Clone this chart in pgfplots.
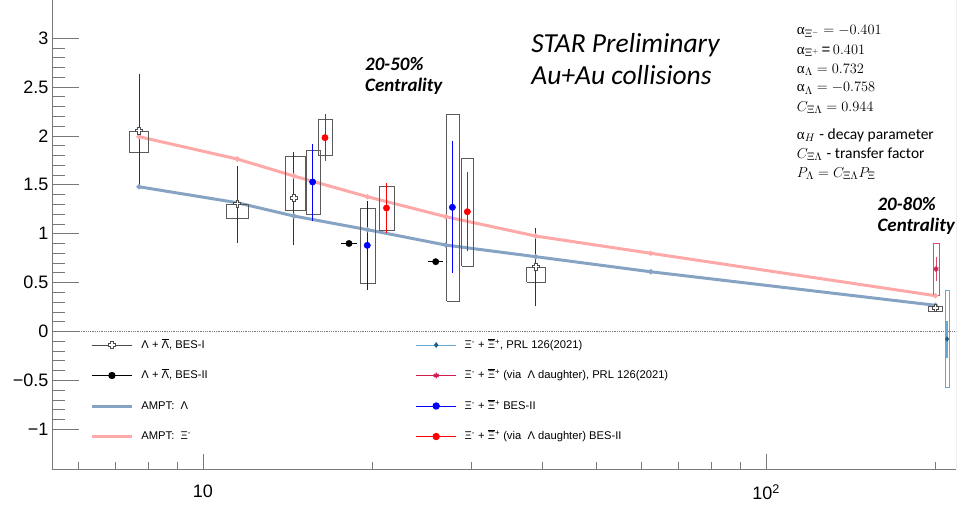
\documentclass[border=0pt]{standalone}
\usepackage{pgfplots}
\pgfplotsset{compat=1.18}
\usepackage{pgfplotstable}
\usepackage{fontspec}
\setmainfont{Liberation Sans}
\newfontfamily\calibri{Carlito}
\newfontfamily\serif{Liberation Serif}

\definecolor{axisgray}{RGB}{120,120,120}
\definecolor{boxgray}{RGB}{90,90,90}
\definecolor{amptblue}{RGB}{134,163,196}
\definecolor{amptred}{RGB}{255,168,168}
\definecolor{crimson}{RGB}{205,30,80}
\definecolor{crimbox}{RGB}{225,70,110}
\definecolor{prlline}{RGB}{100,170,210}
\definecolor{prlmark}{RGB}{25,95,135}

\pgfdeclareplotmark{opencross}{%
  \pgfpathmoveto{\pgfqpoint{-0.35\pgfplotmarksize}{\pgfplotmarksize}}%
  \pgfpathlineto{\pgfqpoint{0.35\pgfplotmarksize}{\pgfplotmarksize}}%
  \pgfpathlineto{\pgfqpoint{0.35\pgfplotmarksize}{0.35\pgfplotmarksize}}%
  \pgfpathlineto{\pgfqpoint{\pgfplotmarksize}{0.35\pgfplotmarksize}}%
  \pgfpathlineto{\pgfqpoint{\pgfplotmarksize}{-0.35\pgfplotmarksize}}%
  \pgfpathlineto{\pgfqpoint{0.35\pgfplotmarksize}{-0.35\pgfplotmarksize}}%
  \pgfpathlineto{\pgfqpoint{0.35\pgfplotmarksize}{-\pgfplotmarksize}}%
  \pgfpathlineto{\pgfqpoint{-0.35\pgfplotmarksize}{-\pgfplotmarksize}}%
  \pgfpathlineto{\pgfqpoint{-0.35\pgfplotmarksize}{-0.35\pgfplotmarksize}}%
  \pgfpathlineto{\pgfqpoint{-\pgfplotmarksize}{-0.35\pgfplotmarksize}}%
  \pgfpathlineto{\pgfqpoint{-\pgfplotmarksize}{0.35\pgfplotmarksize}}%
  \pgfpathlineto{\pgfqpoint{-0.35\pgfplotmarksize}{0.35\pgfplotmarksize}}%
  \pgfpathclose
  \pgfusepathqfillstroke
}

% Lambda + anti-Lambda, BES-I
\pgfplotstableread{
x y ep em
7.7 2.053 0.556 0.572
11.5 1.307 0.365 0.379
14.5 1.365 0.453 0.460
39 0.663 0.372 0.385
200 0.240 0.010 0.010
}\besone
% Lambda + anti-Lambda, BES-II
\pgfplotstableread{
x y xp xm ep em
18.17 0.900 0.60 0.59 0.02 0.02
25.9 0.714 0.83 0.80 0.02 0.02
}\bestwo
% Xi BES-II
\pgfplotstableread{
x y ep em
15.66 1.529 0.371 0.382
19.58 0.881 0.430 0.433
27.73 1.270 0.654 0.651
}\xibes
% Xi via Lambda daughter BES-II
\pgfplotstableread{
x y ep em
16.47 1.982 0.221 0.222
21.18 1.263 0.232 0.232
29.48 1.225 0.385 0.385
}\xilbes
% PRL 126 (2021)
\pgfplotstableread{
x y ep em
200.4 0.639 0.105 0.112
}\prlxil
\pgfplotstableread{
x y ep em
209.7 -0.077 0.184 0.191
}\prlxi
% AMPT
\pgfplotstableread{
x lam xi
7.7 1.480 1.992
11.5 1.317 1.764
14.5 1.181 1.590
19.6 1.041 1.378
27 0.884 1.174
39 0.765 0.976
62.4 0.611 0.800
200 0.268 0.366
}\ampt

\begin{document}
\begin{tikzpicture}
\begin{axis}[
  name=ax,
  scale only axis, width=904pt, height=469pt,
  xmode=log, xmin=5.393, xmax=217.5, ymin=-1.406, ymax=3.39,
  axis x line*=bottom, axis y line*=left,
  axis line style={axisgray, line width=0.8pt},
  tick align=inside,
  xtick={10,100}, xticklabels={10,10\textsuperscript{2}},
  minor xtick={6,7,8,9,20,30,40,50,60,70,80,90,200},
  ytick={-1,-0.5,0,0.5,1,1.5,2,2.5,3},
  yticklabels={−1,−0.5,0,0.5,1,1.5,2,2.5,3},
  minor y tick num=4,
  xtick style={/pgfplots/major tick length=15pt,/pgfplots/minor tick length=7pt, axisgray, line width=0.8pt},
  ytick style={/pgfplots/major tick length=27pt,/pgfplots/minor tick length=13pt, axisgray, line width=0.8pt},
  ticklabel style={font=\fontsize{18}{20}\selectfont},
  xticklabel style={yshift=-12pt},
  unbounded coords=jump,
  legend columns=2,
  legend cell align=left,
  legend image code/.code={\draw[mark repeat=2,mark phase=2,#1] plot coordinates {(0pt,0pt) (20pt,0pt) (40pt,0pt)};},
  legend style={draw=none, fill=none, inner sep=0pt, outer sep=0pt,
    font=\fontsize{11.2}{13}\selectfont,
    at={(rel axis cs:0.0425,0.2814)}, anchor=north west,
    row sep=14.5pt,
    nodes={text height=9pt, text depth=3pt, inner sep=2pt},
    /tikz/column 1/.style={column sep=6pt},
    /tikz/column 2/.style={column sep=206pt},
    /tikz/column 3/.style={column sep=6pt}},
  error bars/error bar style={line width=0.7pt},
]
% legend
\addlegendimage{black!70, line width=0.9pt, mark=opencross, mark size=3.3pt, mark options={solid, fill=white, draw=black!70}}
\addlegendentry{Λ + \(\overline{\mbox{Λ}}\), BES-I}
\addlegendimage{prlline, line width=0.9pt, mark=diamond*, mark size=2.2pt, mark options={fill=prlmark, draw=prlmark}}
\addlegendentry{Ξ\textsuperscript{-} + \(\overline{\mbox{Ξ}}\)\textsuperscript{+}, PRL 126(2021)}
\addlegendimage{black, line width=0.9pt, mark=*, mark size=3.2pt}
\addlegendentry{Λ + \(\overline{\mbox{Λ}}\), BES-II}
\addlegendimage{crimson, line width=0.9pt, mark=asterisk, mark size=2.8pt, mark options={line width=1.2pt}}
\addlegendentry{Ξ\textsuperscript{-} + \(\overline{\mbox{Ξ}}\)\textsuperscript{+} (via\ \ Λ daughter), PRL 126(2021)}
\addlegendimage{amptblue, line width=3pt}
\addlegendentry{AMPT:\ \ Λ}
\addlegendimage{blue, line width=0.9pt, mark=*, mark size=3.2pt}
\addlegendentry{Ξ\textsuperscript{-} + \(\overline{\mbox{Ξ}}\)\textsuperscript{+} BES-II}
\addlegendimage{amptred, line width=3pt}
\addlegendentry{AMPT:\ \ Ξ\textsuperscript{-}}
\addlegendimage{red, line width=0.9pt, mark=*, mark size=3.2pt}
\addlegendentry{Ξ\textsuperscript{-} + \(\overline{\mbox{Ξ}}\)\textsuperscript{+} (via\ \ Λ daughter) BES-II}

% zero line
\addplot[forget plot, axisgray, densely dotted, line width=0.8pt] coordinates {(5.393,0) (217.5,0)};
% AMPT curves
\addplot[forget plot, amptblue, line width=3pt, mark=*, mark size=0.8pt] table[x=x, y=lam] {\ampt};
\addplot[forget plot, amptred, line width=3pt, mark=*, mark size=0.8pt] table[x=x, y=xi] {\ampt};

% systematic boxes (BES)
\addplot[forget plot, boxgray, line width=0.8pt, mark=none] coordinates {
(7.389,1.832) (8.009,1.832) (8.009,2.047) (7.389,2.047) (7.389,1.832) (1,nan)
(11.02,1.153) (12.02,1.153) (12.02,1.300) (11.02,1.300) (11.02,1.153) (1,nan)
(13.98,1.239) (15.18,1.239) (15.18,1.787) (13.98,1.787) (13.98,1.239) (1,nan)
(37.58,0.506) (40.62,0.506) (40.62,0.656) (37.58,0.656) (37.58,0.506) (1,nan)
(194.2,0.210) (206.0,0.210) (206.0,0.261) (194.2,0.261) (194.2,0.210) (1,nan)
(15.26,1.194) (16.16,1.194) (16.16,1.853) (15.26,1.853) (15.26,1.194) (1,nan)
(19.00,0.493) (20.23,0.493) (20.23,1.260) (19.00,1.260) (19.00,0.493) (1,nan)
(27.10,0.312) (28.53,0.312) (28.53,2.224) (27.10,2.224) (27.10,0.312) (1,nan)
(16.03,1.800) (16.97,1.800) (16.97,2.166) (16.03,2.166) (16.03,1.800) (1,nan)
(20.56,1.035) (21.87,1.035) (21.87,1.488) (20.56,1.488) (20.56,1.035) (1,nan)
(28.80,0.667) (30.20,0.667) (30.20,1.771) (28.80,1.771) (28.80,0.667)
};
% systematic boxes (PRL)
\addplot[forget plot, crimbox, line width=0.8pt, mark=none] coordinates {
(198.7,0.366) (202.9,0.366) (202.9,0.902) (198.7,0.902) (198.7,0.366)
};
\addplot[forget plot, prlline, line width=0.8pt, mark=none] coordinates {
(207.9,-0.575) (212.0,-0.575) (212.0,0.424) (207.9,0.424) (207.9,-0.575)
};

% data points with stat errors
\addplot[forget plot, only marks, black!75, mark=opencross, mark size=3.3pt, mark options={fill=white, draw=black!70, line width=0.8pt},
  error bars/.cd, y dir=both, y explicit, error mark options={black!80, mark size=2pt, line width=0.7pt}, error bar style={black!80}]
  table[x=x, y=y, y error plus=ep, y error minus=em] {\besone};
\addplot[forget plot, only marks, black, mark=*, mark size=3.2pt,
  error bars/.cd, x dir=both, x explicit, y dir=both, y explicit, error mark=none, error bar style={line width=1pt}]
  table[x=x, y=y, x error plus=xp, x error minus=xm, y error plus=ep, y error minus=em] {\bestwo};
\addplot[forget plot, only marks, blue, mark=*, mark size=3.2pt,
  error bars/.cd, y dir=both, y explicit, error mark options={blue, mark size=2pt, line width=0.7pt}]
  table[x=x, y=y, y error plus=ep, y error minus=em] {\xibes};
\addplot[forget plot, only marks, red, mark=*, mark size=3.2pt,
  error bars/.cd, y dir=both, y explicit, error mark options={red, mark size=2pt, line width=0.7pt}]
  table[x=x, y=y, y error plus=ep, y error minus=em] {\xilbes};
\addplot[forget plot, only marks, crimson, mark=asterisk, mark size=2.8pt, mark options={line width=1.2pt},
  error bars/.cd, y dir=both, y explicit, error mark options={crimbox, mark size=1.5pt, line width=0.6pt}, error bar style={crimbox, line width=0.6pt}]
  table[x=x, y=y, y error plus=ep, y error minus=em] {\prlxil};
\addplot[forget plot, only marks, prlmark, mark=diamond*, mark size=2.4pt,
  error bars/.cd, y dir=both, y explicit, error mark=none, error bar style={prlline, line width=2pt}]
  table[x=x, y=y, y error plus=ep, y error minus=em] {\prlxi};

% right frame line
\draw[axisgray, line width=0.8pt] (rel axis cs:1,0) -- (rel axis cs:1,1);

% annotations
\node[anchor=base west, font=\calibri\itshape\fontsize{27.5}{30}\selectfont, inner sep=0pt] at (rel axis cs:0.530,0.8876) {STAR Preliminary};
\node[anchor=base west, font=\calibri\itshape\fontsize{27.5}{30}\selectfont, inner sep=0pt] at (rel axis cs:0.530,0.8188) {Au+Au collisions};
\node[anchor=base west, font=\calibri\bfseries\itshape\fontsize{19}{22}\selectfont, inner sep=0pt] at (rel axis cs:0.3462,0.8507) {20-50\%};
\node[anchor=base west, font=\calibri\bfseries\itshape\fontsize{19}{22}\selectfont, inner sep=0pt] at (rel axis cs:0.3462,0.8045) {Centrality};
\node[anchor=base west, font=\calibri\bfseries\itshape\fontsize{19}{22}\selectfont, inner sep=0pt] at (rel axis cs:0.913,0.5507) {20-80\%};
\node[anchor=base west, font=\calibri\bfseries\itshape\fontsize{19}{22}\selectfont, inner sep=0pt] at (rel axis cs:0.913,0.506) {Centrality};

\node[anchor=base west, font=\fontsize{15}{17}\selectfont, inner sep=0pt] at (rel axis cs:0.8238,0.9254) {{\serif α}$_{\Xi^-} = -0.401$};
\node[anchor=base west, font=\fontsize{15}{17}\selectfont, inner sep=0pt] at (rel axis cs:0.8238,0.8842) {{\serif α}$_{\Xi^+}$\,=\,$0.401$};
\node[anchor=base west, font=\fontsize{15}{17}\selectfont, inner sep=0pt] at (rel axis cs:0.8238,0.8437) {{\serif α}$_{\Lambda} = 0.732$};
\node[anchor=base west, font=\fontsize{15}{17}\selectfont, inner sep=0pt] at (rel axis cs:0.8238,0.8045) {{\serif α}$_{\Lambda} = -0.758$};
\node[anchor=base west, font=\fontsize{15}{17}\selectfont, inner sep=0pt] at (rel axis cs:0.8238,0.7633) {$C_{\Xi\Lambda} = 0.944$};
\node[anchor=base west, font=\fontsize{15}{17}\selectfont, inner sep=0pt] at (rel axis cs:0.8238,0.7030) {{\serif α}$_{H}$ {\calibri\fontsize{15.5}{17}\selectfont - decay parameter}};
\node[anchor=base west, font=\fontsize{15}{17}\selectfont, inner sep=0pt] at (rel axis cs:0.8238,0.6625) {$C_{\Xi\Lambda}$ {\calibri\fontsize{15.5}{17}\selectfont - transfer factor}};
\node[anchor=base west, font=\fontsize{15}{17}\selectfont, inner sep=0pt] at (rel axis cs:0.8238,0.6220) {$P_{\Lambda} = C_{\Xi\Lambda}P_{\Xi}$};

% x axis title
\node[anchor=base east, font=\fontsize{15.5}{18}\selectfont, inner sep=0pt] at (rel axis cs:1,-0.0676) {$\sqrt{\mbox{s\textsubscript{NN}}}$ (GeV)};
\end{axis}
\pgfresetboundingbox
\path[use as bounding box] ([xshift=-52pt,yshift=-48pt]ax.south west) rectangle ([xshift=9pt]ax.north east);
\end{tikzpicture}
\end{document}
